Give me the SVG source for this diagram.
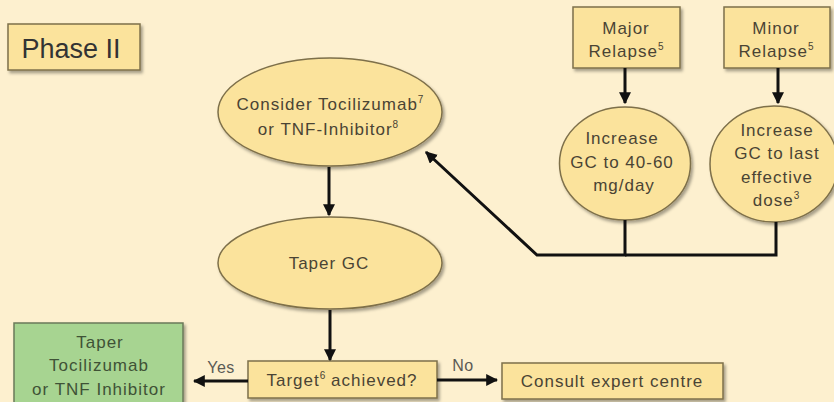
<svg xmlns="http://www.w3.org/2000/svg" width="834" height="402" viewBox="0 0 834 402">
<defs>
<filter id="sh" x="-10%" y="-10%" width="130%" height="140%">
<feDropShadow dx="2" dy="2.5" stdDeviation="1.5" flood-color="#000" flood-opacity="0.35"/>
</filter>
<marker id="ah" viewBox="0 0 10 10" refX="9" refY="5" markerWidth="4" markerHeight="4" orient="auto" markerUnits="strokeWidth">
<path d="M0,0 L10,5 L0,10 z" fill="#111"/>
</marker>
<style>
.n{fill:#fbe39c;stroke:#7e704a;stroke-width:1.5;filter:url(#sh)}
.g{fill:#a7d491;stroke:#6b7a5a;stroke-width:1.5;filter:url(#sh)}
.t{font-family:"Liberation Sans",Arial,sans-serif;font-size:17px;letter-spacing:1px;fill:#4a4434;text-anchor:middle}
.tg{fill:#3f5236}
.l{font-family:"Liberation Sans",Arial,sans-serif;font-size:16px;letter-spacing:0.5px;fill:#5a5a55;text-anchor:middle}
.c{fill:none;stroke:#111;stroke-width:3}
.a{marker-end:url(#ah)}
.s{font-size:10px;letter-spacing:0}
</style>
</defs>
<rect width="834" height="402" fill="#fdf0cf"/>

<g id="phase">
<rect class="n" x="8" y="24" width="132" height="46"/>
<text x="71" y="58" style="font-family:'Liberation Sans',Arial,sans-serif;font-size:27px;fill:#333;text-anchor:middle">Phase II</text>
</g>

<g id="consider">
<ellipse class="n" cx="330" cy="112" rx="112" ry="54"/>
<text class="t" x="330" y="110">Consider Tocilizumab<tspan class="s" dy="-7">7</tspan></text>
<text class="t" x="328" y="135">or TNF-Inhibitor<tspan class="s" dy="-7">8</tspan></text>
</g>

<g id="taper">
<ellipse class="n" cx="330" cy="263" rx="112" ry="46"/>
<text class="t" x="329" y="269">Taper GC</text>
</g>

<g id="target">
<rect class="n" x="248" y="361" width="189" height="37"/>
<text class="t" x="342" y="386">Target<tspan class="s" dy="-7">6</tspan><tspan dy="7"> achieved?</tspan></text>
</g>

<g id="taperbio">
<rect class="g" x="14" y="323" width="169" height="92"/>
<text class="t tg" x="100" y="348">Taper</text>
<text class="t tg" x="99" y="371">Tocilizumab</text>
<text class="t tg" x="99" y="395">or TNF Inhibitor</text>
</g>

<g id="consult">
<rect class="n" x="502" y="363" width="221" height="36"/>
<text class="t" x="612" y="387">Consult expert centre</text>
</g>

<g id="major">
<rect class="n" x="573" y="7" width="107" height="61"/>
<text class="t" x="626" y="34">Major</text>
<text class="t" x="626" y="57">Relapse<tspan class="s" dy="-7">5</tspan></text>
</g>

<g id="minor">
<rect class="n" x="724" y="7" width="106" height="61"/>
<text class="t" x="776" y="34">Minor</text>
<text class="t" x="776" y="57">Relapse<tspan class="s" dy="-7">5</tspan></text>
</g>

<g id="inc-major">
<ellipse class="n" cx="625" cy="163.5" rx="65.5" ry="56.5"/>
<text class="t" x="622" y="144">Increase</text>
<text class="t" x="622" y="168">GC to 40-60</text>
<text class="t" x="624" y="191">mg/day</text>
</g>

<g id="inc-minor">
<ellipse class="n" cx="774" cy="164" rx="64" ry="58"/>
<text class="t" x="777" y="136">Increase</text>
<text class="t" x="777" y="159">GC to last</text>
<text class="t" x="777" y="183">effective</text>
<text class="t" x="776" y="206">dose<tspan class="s" dy="-7">3</tspan></text>
</g>

<g id="connectors">
<line class="c a" x1="329" y1="167" x2="329" y2="215"/>
<line class="c a" x1="330" y1="310" x2="330" y2="360"/>
<line class="c a" x1="248" y1="381" x2="194" y2="381"/>
<line class="c a" x1="437" y1="380" x2="497" y2="380"/>
<line class="c a" x1="625" y1="68" x2="625" y2="103"/>
<line class="c a" x1="778" y1="68" x2="778" y2="103"/>
<polyline class="c a" points="625,220 625,255 537,255 426,152"/>
<polyline class="c" points="776,222 776,255 625,255"/>
<text class="l" x="221" y="373">Yes</text>
<text class="l" x="463" y="371">No</text>
</g>
</svg>
